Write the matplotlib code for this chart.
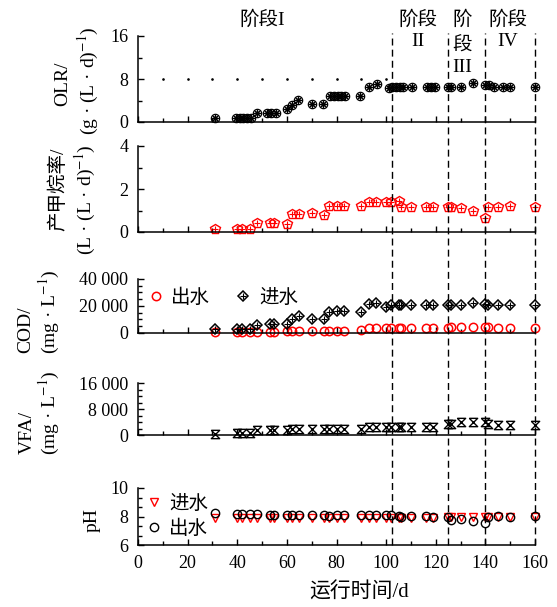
import matplotlib
matplotlib.use('Agg')
import matplotlib.pyplot as plt
import numpy as np
from matplotlib.ticker import MultipleLocator, FuncFormatter, AutoMinorLocator

plt.rcParams['font.family'] = ['Liberation Serif', 'Noto Sans CJK SC']
plt.rcParams['mathtext.fontset'] = 'stix'

# ---- data ----
olr_days = [31, 39.5, 41, 42.5, 44, 45.5, 48, 52, 53.5, 55.5, 60, 62, 64.5, 70, 74.5,
            77.5, 79, 80.5, 82, 83.5, 89.5, 93, 96.5, 101, 102.5, 104, 105.5, 107, 110.5,
            116.5, 118, 119.5, 125, 126, 130, 135, 140, 141.5, 143.5, 147, 150, 160]
olr = [0.8, 0.7, 0.7, 0.7, 0.7, 0.7, 1.7, 1.7, 1.7, 1.7, 2.4, 3.2, 4.1, 3.3, 3.3,
       4.9, 4.9, 4.9, 4.9, 4.9, 4.9, 6.5, 7.0, 6.3, 6.6, 6.6, 6.6, 6.6, 6.6,
       6.6, 6.6, 6.6, 6.6, 6.6, 6.6, 7.2, 6.9, 6.9, 6.6, 6.6, 6.6, 6.6]

days = [31, 40, 42, 45, 48, 53, 55, 60, 62, 65, 70, 75, 77, 80, 83, 90, 93, 96, 100,
        102, 105, 106, 110, 116, 119, 125, 126, 130, 135, 140, 141, 145, 150, 160]
methane = [0.15, 0.15, 0.15, 0.15, 0.42, 0.42, 0.42, 0.37, 0.84, 0.85, 0.88, 0.79, 1.2,
           1.2, 1.2, 1.2, 1.38, 1.4, 1.41, 1.41, 1.43, 1.17, 1.17, 1.17, 1.17, 1.17,
           1.17, 1.1, 0.98, 0.65, 1.17, 1.17, 1.2, 1.17]
cod_in = [3000, 3000, 3000, 3000, 6000, 6700, 6700, 6700, 10400, 12600, 10400, 10400,
          15800, 16000, 16000, 15800, 21200, 22000, 19500, 20700, 20700, 20700, 20700,
          20700, 20700, 20700, 20700, 20700, 22000, 21500, 21000, 20700, 20700, 20700]
cod_out = [1000, 800, 1000, 1000, 1000, 1000, 1000, 1200, 1500, 1700, 1700, 1700, 1800,
           1800, 1800, 2000, 3500, 3700, 3700, 3700, 3500, 3600, 4000, 4000, 3800,
           3500, 4200, 4200, 4500, 4800, 4500, 4000, 4000, 4000]
vfa = [300, 600, 600, 600, 1500, 1500, 1500, 1500, 1800, 1800, 1700, 1800, 1800, 1800,
       1800, 1800, 2600, 2600, 2600, 2600, 2600, 2600, 2600, 2600, 2600, 3300, 3300,
       4000, 4000, 4100, 3500, 3000, 3000, 3000]
ph_in = [7.87, 7.87, 7.87, 7.87, 7.87, 7.9, 7.9, 7.9, 7.9, 7.9, 7.9, 7.9, 7.9, 7.9, 7.9,
         7.9, 7.9, 7.9, 7.9, 7.9, 7.9, 7.9, 7.9, 7.9, 7.9, 7.98, 7.98, 7.98, 7.98, 7.98,
         7.95, 7.95, 7.95, 7.95]
ph_out = [8.22, 8.2, 8.2, 8.2, 8.2, 8.12, 8.12, 8.1, 8.1, 8.1, 8.1, 8.1, 8.05, 8.1, 8.1,
          8.1, 8.08, 8.1, 8.1, 8.1, 8.05, 8.0, 8.05, 8.05, 8.0, 8.0, 7.75, 7.8, 7.7,
          7.55, 8.0, 8.05, 8.0, 8.05]

stage_bounds = [102.5, 125, 140, 160]

W, H = 557, 607
fig = plt.figure(figsize=(W / 100, H / 100), dpi=100)
L, R = 138, 535


def box(top, bottom):
    return [L / W, 1 - bottom / H, (R - L) / W, (bottom - top) / H]


def fig_text(x, y, s, **kw):
    fig.text(x / W, 1 - y / H, s, **kw)


thousands = FuncFormatter(lambda v, p: f'{v:,.0f}'.replace(',', ' '))

panels = [(36, 122, 0, 16, 8, 4), (146, 232, 0, 4, 2, 1), (279, 333, 0, 40000, 20000, 5000),
          (383, 435, 0, 16000, 8000, 2000), (488, 545, 6, 10, 2, None)]
axes = []
for i, (top, bot, y0, y1, maj, mnr) in enumerate(panels):
    ax = fig.add_axes(box(top, bot))
    ax.set_xlim(0, 160)
    ax.set_ylim(y0, y1)
    for s in ['top', 'right']:
        ax.spines[s].set_visible(False)
    for s in ['left', 'bottom']:
        ax.spines[s].set_linewidth(1.1)
    ax.xaxis.set_major_locator(MultipleLocator(20))
    ax.xaxis.set_minor_locator(MultipleLocator(10))
    ax.yaxis.set_major_locator(MultipleLocator(maj))
    if mnr:
        ax.yaxis.set_minor_locator(MultipleLocator(mnr))
    else:
        ax.yaxis.set_minor_locator(AutoMinorLocator(3))
    ax.tick_params(which='both', direction='in', labelsize=13, pad=7, width=1.0)
    ax.tick_params(which='major', length=4)
    ax.tick_params(which='minor', length=3)
    if i < 4:
        ax.tick_params(axis='x', labelbottom=False)
    ax.patch.set_alpha(0)
    axes.append(ax)

ax1, ax2, ax3, ax4, ax5 = axes
ax3.yaxis.set_major_formatter(thousands)
ax4.yaxis.set_major_formatter(thousands)

ms_kw = dict(linestyle='none', clip_on=False, markerfacecolor='none')

# OLR
ax1.scatter(np.arange(10, 101, 10), [8] * 10, s=0.8, color='k')
ax1.plot(olr_days, olr, marker='o', markersize=6, markeredgecolor='k', mew=0.9, **ms_kw)
ax1.plot(olr_days, olr, marker=(8, 2, 0), markersize=5, markeredgecolor='k', mew=0.8, **ms_kw)

# methane rate
ax2.plot(days, methane, marker='p', markersize=7, markeredgecolor='red', mew=1.0, **ms_kw)
ax2.plot(days, methane, marker='+', markersize=4.5, markeredgecolor='red', mew=0.8, **ms_kw)

# COD
h_out, = ax3.plot(days, cod_out, marker='o', markersize=6, markeredgecolor='red', mew=1.1, **ms_kw)
h_in1, = ax3.plot(days, cod_in, marker='D', markersize=5.5, markeredgecolor='k', mew=1.1, **ms_kw)
h_in2, = ax3.plot(days, cod_in, marker='+', markersize=4.5, markeredgecolor='k', mew=0.8, **ms_kw)
ax3.legend([h_out, (h_in1, h_in2)], ['出水', '进水'], ncol=2, loc='center left',
           bbox_to_anchor=(0.02, 0.66), frameon=False, fontsize=14, handlelength=1.0,
           handletextpad=0.3, columnspacing=1.2, borderpad=0, borderaxespad=0)

# VFA
hourglass = [(-1, 1), (1, 1), (-1, -1), (1, -1), (-1, 1)]
ax4.plot(days, vfa, marker=hourglass, markersize=6, markeredgecolor='k', mew=1.0, **ms_kw)

# pH
p_in, = ax5.plot(days, ph_in, marker='v', markersize=6, markeredgecolor='red', mew=1.0, **ms_kw)
p_out, = ax5.plot(days, ph_out, marker='o', markersize=6, markeredgecolor='k', mew=1.0, **ms_kw)
ax5.legend([p_in, p_out], ['进水', '出水'], loc='center left', bbox_to_anchor=(0.015, 0.5),
           frameon=False, fontsize=14, handlelength=1.0, handletextpad=0.3,
           labelspacing=0.32, borderpad=0, borderaxespad=0)

# stage boundaries across the whole figure
ov = fig.add_axes(box(33, 545))
ov.set_xlim(0, 160)
ov.set_ylim(0, 1)
ov.axis('off')
for b in stage_bounds:
    ov.axvline(b, color='k', lw=1.0, linestyle=(0, (5, 3)), clip_on=False)

# stage labels
fig_text(262, 20, '阶段I', ha='center', va='center', fontsize=14)
fig_text(418, 20, '阶段', ha='center', va='center', fontsize=14)
fig_text(418, 42, 'II', ha='center', va='center', fontsize=14)
fig_text(462, 20, '阶', ha='center', va='center', fontsize=14)
fig_text(462, 46, '段', ha='center', va='center', fontsize=14)
fig_text(462, 67, 'III', ha='center', va='center', fontsize=14)
fig_text(508, 20, '阶段', ha='center', va='center', fontsize=14)
fig_text(508, 42, 'IV', ha='center', va='center', fontsize=14)

# y labels
lab = dict(rotation=90, ha='center', va='center', fontsize=14)
fig_text(63, 84, 'OLR/', **lab)
fig_text(88, 81, '(g · (L · d)$^{-1}$)', **lab)
fig_text(58, 189, '产甲烷率/', **lab)
fig_text(85, 200, '(L · (L · d)$^{-1}$)', **lab)
fig_text(26, 330, 'COD/', **lab)
fig_text(49, 312, '(mg · L$^{-1}$)', **lab)
fig_text(27, 432, 'VFA/', **lab)
fig_text(49, 413, '(mg · L$^{-1}$)', **lab)
fig_text(92, 520, 'pH', **lab)

fig_text(359, 593, '运行时间/d', ha='center', va='center', fontsize=15)

fig.savefig('out.png', dpi=100)
